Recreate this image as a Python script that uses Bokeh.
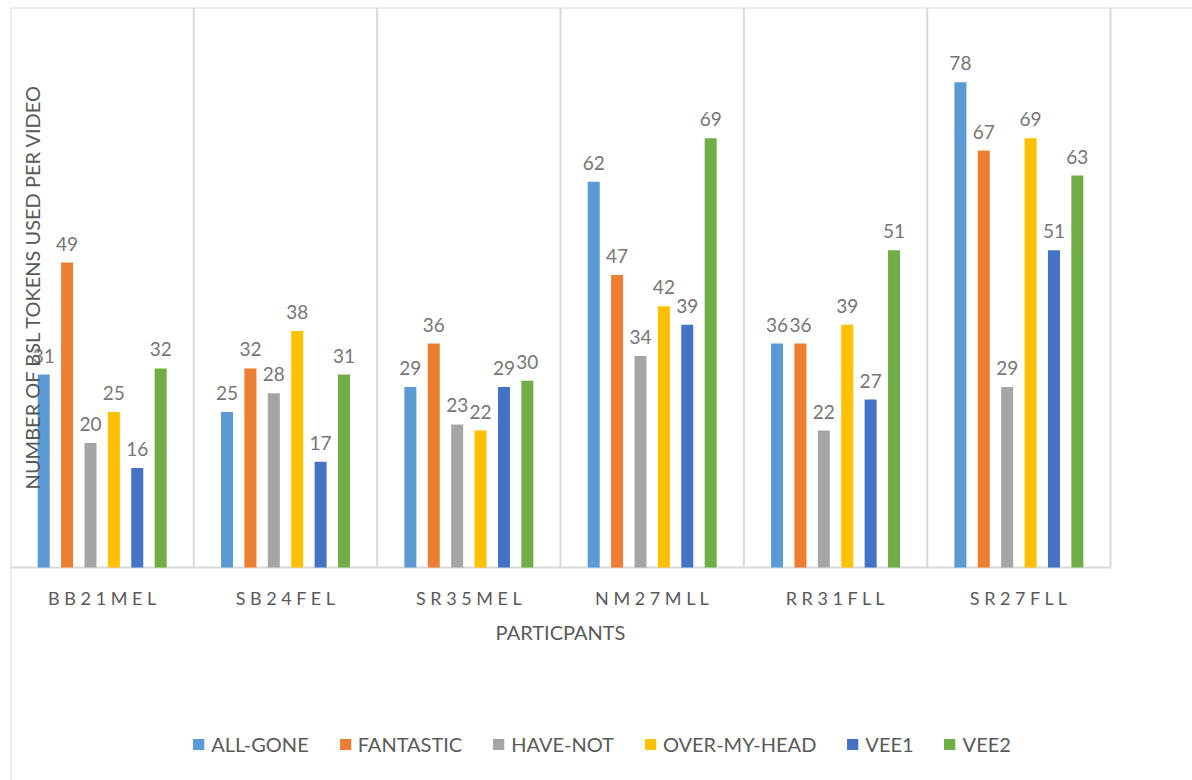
import math
from bokeh.plotting import figure
from bokeh.models import Range1d, Legend, LegendItem, Label, ColumnDataSource
from bokeh.core.properties import value
from bokeh.embed import file_html
from bokeh.resources import INLINE

participants = ["BB21MEL", "SB24FEL", "SR35MEL", "NM27MLL", "RR31FLL", "SR27FLL"]
series_names = ["ALL-GONE", "FANTASTIC", "HAVE-NOT", "OVER-MY-HEAD", "VEE1", "VEE2"]
all_gone = [31, 25, 29, 62, 36, 78]
fantastic = [49, 32, 36, 47, 36, 67]
have_not = [20, 28, 23, 34, 22, 29]
over_my_head = [25, 38, 22, 42, 39, 69]
vee1 = [16, 17, 29, 39, 27, 51]
vee2 = [32, 31, 30, 69, 51, 63]
colors = ["#5B9BD5", "#ED7D31", "#A5A5A5", "#FFC000", "#4472C4", "#70AD47"]
y_title = "NUMBER OF BSL TOKENS USED PER VIDEO"
x_title = "PARTICPANTS"

series_values = [all_gone, fantastic, have_not, over_my_head, vee1, vee2]

FONT = "Lato"
GRID = "#D9D9D9"
Y_MAX = 90
Y_MIN = -34.23
X_MAX = 6.447

p = figure(width=1192, height=780, output_backend="svg", toolbar_location=None,
           x_range=Range1d(0, X_MAX), y_range=Range1d(Y_MIN, Y_MAX),
           min_border_left=10, min_border_top=7, min_border_right=0, min_border_bottom=0)
p.xaxis.visible = False
p.yaxis.visible = False
p.xgrid.visible = False
p.ygrid.visible = False
p.outline_line_color = None
p.background_fill_color = "white"
p.border_fill_color = "white"

n = len(participants)
# category separators
p.segment(x0=list(range(1, n + 1)), y0=[0] * n, x1=list(range(1, n + 1)), y1=[Y_MAX] * n,
          line_color=GRID, line_width=2)
# left border & top border & baseline
p.segment(x0=[0, 0, 0], y0=[Y_MIN, Y_MAX, 0], x1=[0, X_MAX, n], y1=[Y_MAX, Y_MAX, 0],
          line_color=GRID, line_width=2)

step = 0.1276
bar_w = 0.0655
items = []
for k, (name, vals, col) in enumerate(zip(series_names, series_values, colors)):
    off = (k - 2.5) * step
    xs = [i + 0.5 + off for i in range(n)]
    src = ColumnDataSource(dict(x=xs, top=vals, lab=[str(v) for v in vals]))
    r = p.vbar(x="x", top="top", bottom=0, width=bar_w, source=src, fill_color=col, line_color=None)
    p.text(x="x", y="top", text="lab", source=src, text_align="center", text_baseline="middle",
           y_offset=-19, text_font=value(FONT), text_font_size="19px", text_color="#767676")
    items.append(LegendItem(label=name, renderers=[r]))

# category labels (letter-spaced)
cat_src = ColumnDataSource(dict(x=[i + 0.5 for i in range(n)], y=[0] * n,
                                t=[" ".join(c) for c in participants]))
p.text(x="x", y="y", text="t", source=cat_src, text_align="center", text_baseline="middle",
       y_offset=30, text_font=value(FONT), text_font_size="18px", text_color="#595959")

p.add_layout(Label(x=n / 2, y=0, y_offset=-64, text=x_title, text_align="center", text_baseline="middle",
                   text_font=FONT, text_font_size="20px", text_color="#595959"))
p.add_layout(Label(x=21, y=494, x_units="screen", y_units="screen", text=y_title, angle=math.pi / 2,
                   text_align="center", text_baseline="middle",
                   text_font=FONT, text_font_size="20px", text_color="#595959"))

legend = Legend(items=items, orientation="horizontal", location="bottom_center",
                glyph_width=14, glyph_height=14, label_standoff=6, spacing=29,
                padding=0, margin=24, border_line_color=None, background_fill_alpha=0,
                label_text_font=FONT, label_text_font_size="20px", label_text_color="#595959")
p.add_layout(legend, "center")

open("out.html", "w").write(file_html(p, INLINE))
